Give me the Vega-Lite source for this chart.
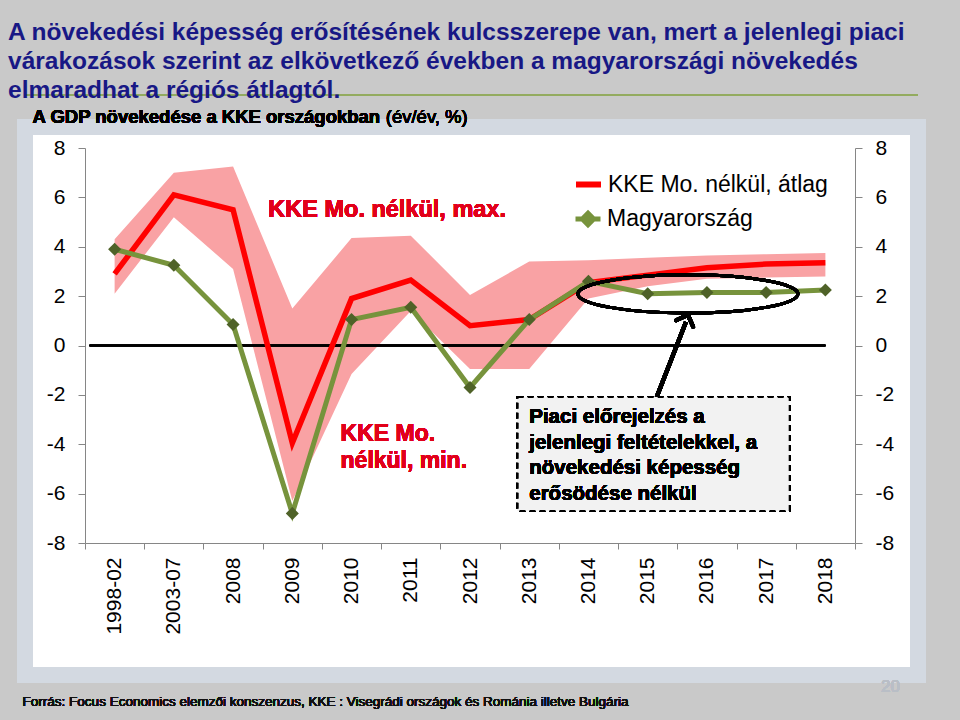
{
  "$schema": "https://vega.github.io/schema/vega-lite/v6.json",
  "width": 893,
  "height": 548,
  "autosize": {"type": "none"},
  "padding": {"left": 25, "top": 127, "right": 42, "bottom": 45},
  "background": "#c9c9c9",
  "config": {
    "font": "Liberation Sans",
    "view": {"fill": "white", "stroke": "#d3d9e1", "strokeWidth": 16},
    "legend": {"padding": 0}
  },
  "title": {
    "text": [
      "A növekedési képesség erősítésének kulcsszerepe van, mert a jelenlegi piaci",
      "várakozások szerint az elkövetkező években a magyarországi növekedés",
      "elmaradhat a régiós átlagtól."
    ],
    "anchor": "start",
    "frame": "group",
    "font": "Liberation Sans",
    "fontWeight": "bold",
    "fontSize": 24.5,
    "lineHeight": 29,
    "color": "#181885",
    "offset": -10,
    "dx": -17
  },
  "data": {
    "values": [
      {"ev": "1998-02", "atlag": 2.9, "hu": 3.9, "min": 2.1, "max": 4.3},
      {"ev": "2003-07", "atlag": 6.1, "hu": 3.25, "min": 5.2, "max": 7.0},
      {"ev": "2008", "atlag": 5.5, "hu": 0.85, "min": 3.1, "max": 7.25},
      {"ev": "2009", "atlag": -3.95, "hu": -6.8, "min": -6.3, "max": 1.5},
      {"ev": "2010", "atlag": 1.9, "hu": 1.05, "min": -1.15, "max": 4.35},
      {"ev": "2011", "atlag": 2.65, "hu": 1.55, "min": 1.4, "max": 4.45},
      {"ev": "2012", "atlag": 0.8, "hu": -1.7, "min": -0.95, "max": 2.05},
      {"ev": "2013", "atlag": 1.05, "hu": 1.05, "min": -0.95, "max": 3.4},
      {"ev": "2014", "atlag": 2.55, "hu": 2.6, "min": 1.9, "max": 3.45},
      {"ev": "2015", "atlag": 2.85, "hu": 2.1, "min": 2.4, "max": 3.55},
      {"ev": "2016", "atlag": 3.15, "hu": 2.15, "min": 2.7, "max": 3.65},
      {"ev": "2017", "atlag": 3.3, "hu": 2.15, "min": 2.75, "max": 3.7},
      {"ev": "2018", "atlag": 3.35, "hu": 2.25, "min": 2.8, "max": 3.75}
    ]
  },
  "resolve": {"axis": {"y": "independent"}},
  "layer": [
    {
      "mark": {"type": "area", "color": "#f9a2a4", "opacity": 1},
      "encoding": {
        "x": {
          "field": "ev", "type": "nominal", "sort": null, "title": null,
          "scale": {"range": [60, 830], "paddingInner": 0, "paddingOuter": 0},
          "axis": {
            "orient": "bottom", "offset": -132, "labelAngle": 270, "labelFontSize": 21,
            "labelColor": "black", "tickBand": "extent", "tickSize": 6, "labelPadding": 8,
            "tickColor": "#868686", "domainColor": "#868686", "grid": false
          }
        },
        "y": {
          "field": "max", "type": "quantitative", "title": null,
          "scale": {"domain": [-8, 8], "range": [416, 21], "nice": false, "zero": false},
          "axis": {
            "orient": "left", "offset": -60, "values": [-8, -6, -4, -2, 0, 2, 4, 6, 8],
            "labelExpr": "'' + datum.value", "labelFontSize": 21, "labelColor": "black",
            "tickSize": 7, "labelPadding": 13, "tickColor": "#868686", "domainColor": "#868686", "grid": false
          }
        },
        "y2": {"field": "min"}
      }
    },
    {
      "mark": {"type": "rule", "color": "black", "strokeWidth": 1.5, "xOffset": -25},
      "encoding": {
        "x": {"datum": "1998-02"},
        "x2": {"datum": "2018"},
        "y": {"datum": 0, "axis": null}
      }
    },
    {
      "mark": {"type": "line", "strokeWidth": 5.5, "strokeJoin": "miter"},
      "encoding": {
        "x": {"field": "ev", "type": "nominal", "sort": null},
        "y": {
          "field": "atlag", "type": "quantitative",
          "axis": {
            "orient": "right", "offset": -63, "values": [-8, -6, -4, -2, 0, 2, 4, 6, 8],
            "labelExpr": "'' + datum.value", "labelFontSize": 21, "labelColor": "black",
            "tickSize": 7, "labelPadding": 13, "tickColor": "#868686", "domainColor": "#868686", "grid": false, "title": null
          }
        },
        "color": {
          "datum": "KKE Mo. nélkül, átlag",
          "scale": {"range": ["#ff0000"]},
          "legend": {
            "title": null, "orient": "none", "legendX": 548, "legendY": 42,
            "symbolType": "stroke", "symbolSize": 625, "symbolStrokeWidth": 6,
            "labelFontSize": 23, "labelColor": "black", "labelOffset": 4, "labelLimit": 400
          }
        }
      }
    },
    {
      "mark": {"type": "line", "strokeWidth": 5},
      "encoding": {
        "x": {"field": "ev", "type": "nominal", "sort": null},
        "y": {"field": "hu", "type": "quantitative", "axis": null},
        "stroke": {
          "datum": "Magyarország",
          "scale": {"range": ["#77933c"]},
          "legend": {
            "title": null, "orient": "none", "legendX": 548, "legendY": 77,
            "symbolType": "M-1,0L1,0M0,-0.45L0.45,0L0,0.45L-0.45,0Z", "symbolSize": 625, "symbolStrokeWidth": 5,
            "symbolFillColor": "#4f6228",
            "labelFontSize": 23, "labelColor": "black", "labelOffset": 4, "labelLimit": 400
          }
        }
      }
    },
    {
      "mark": {"type": "point", "shape": "diamond", "filled": true, "size": 170, "color": "#4f6228", "opacity": 1},
      "encoding": {
        "x": {"field": "ev", "type": "nominal", "sort": null},
        "y": {"field": "hu", "type": "quantitative", "axis": null}
      }
    },
    {
      "mark": {
        "type": "point", "shape": "M-1,0A1,0.173,0,1,0,1,0A1,0.173,0,1,0,-1,0Z",
        "size": 48400, "filled": false, "stroke": "black", "strokeWidth": 3, "opacity": 1, "xOffset": -19
      },
      "encoding": {
        "x": {"datum": "2016"},
        "y": {"datum": 2.09, "axis": null}
      }
    },
    {
      "mark": {"type": "rule", "color": "black", "strokeWidth": 4, "xOffset": 9, "x2Offset": -21},
      "encoding": {
        "x": {"datum": "2015"},
        "x2": {"datum": "2016"},
        "y": {"datum": -2.09, "axis": null},
        "y2": {"datum": 0.95}
      }
    },
    {
      "mark": {
        "type": "point", "shape": "M-0.7,0.7L0,0L0.7,0.7", "size": 676, "filled": false,
        "stroke": "black", "strokeWidth": 4, "opacity": 1, "angle": 21, "xOffset": -19, "strokeCap": "round"
      },
      "encoding": {
        "x": {"datum": "2016"},
        "y": {"datum": 1.235, "axis": null}
      }
    },
    {
      "mark": {
        "type": "bar", "width": 272, "xOffset": 6, "fill": "#f2f2f2", "stroke": "black",
        "strokeWidth": 2, "strokeDash": [6, 4]
      },
      "encoding": {
        "x": {"datum": "2015"},
        "y": {"datum": -2.09, "axis": null},
        "y2": {"datum": -6.7}
      }
    },
    {
      "mark": {
        "type": "text", "align": "left", "baseline": "alphabetic", "fontSize": 20.5,
        "fontWeight": "bold", "color": "black", "lineHeight": 25.7
      },
      "encoding": {
        "x": {"datum": "2013"},
        "y": {"datum": -3.14, "axis": null},
        "text": {"value": ["Piaci előrejelzés a", "jelenlegi feltételekkel, a", "növekedési képesség", "erősödése nélkül"]}
      }
    },
    {
      "mark": {
        "type": "text", "align": "left", "baseline": "alphabetic", "fontSize": 23.5,
        "fontWeight": "bold", "color": "#e2001a", "dx": -24
      },
      "encoding": {
        "x": {"datum": "2009"},
        "y": {"datum": 5.2, "axis": null},
        "text": {"value": "KKE Mo. nélkül, max."}
      }
    },
    {
      "mark": {
        "type": "text", "align": "left", "baseline": "alphabetic", "fontSize": 23,
        "fontWeight": "bold", "color": "#e2001a", "dx": -11, "lineHeight": 27
      },
      "encoding": {
        "x": {"datum": "2010"},
        "y": {"datum": -3.87, "axis": null},
        "text": {"value": ["KKE Mo.", "nélkül, min."]}
      }
    },
    {
      "mark": {"type": "rule", "color": "#93ab5f", "strokeWidth": 2},
      "encoding": {
        "y": {"datum": 10.15, "axis": null}
      }
    },
    {
      "mark": {
        "type": "text", "align": "left", "baseline": "middle", "fontSize": 18.5,
        "fontWeight": "bold", "color": "black", "dx": -82
      },
      "encoding": {
        "x": {"datum": "1998-02"},
        "y": {"datum": 9.26, "axis": null},
        "text": {"value": "A GDP növekedése a KKE országokban"}
      }
    },
    {
      "mark": {
        "type": "text", "align": "left", "baseline": "middle", "fontSize": 18.5,
        "fontWeight": "normal", "color": "black", "dx": -25
      },
      "encoding": {
        "x": {"datum": "2011"},
        "y": {"datum": 9.26, "axis": null},
        "text": {"value": "(év/év, %)"}
      }
    },
    {
      "mark": {
        "type": "text", "align": "left", "baseline": "middle", "fontSize": 13.5,
        "fontWeight": "normal", "color": "#111111", "dx": -92
      },
      "encoding": {
        "x": {"datum": "1998-02"},
        "y": {"datum": -14.44, "axis": null},
        "text": {"value": "Forrás: Focus Economics elemzői konszenzus, KKE : Visegrádi országok és Románia illetve Bulgária"}
      }
    },
    {
      "mark": {
        "type": "text", "align": "center", "baseline": "middle", "fontSize": 17,
        "color": "#b9bec6", "dx": 65
      },
      "encoding": {
        "x": {"datum": "2018"},
        "y": {"datum": -13.83, "axis": null},
        "text": {"value": "20"}
      }
    }
  ]
}
